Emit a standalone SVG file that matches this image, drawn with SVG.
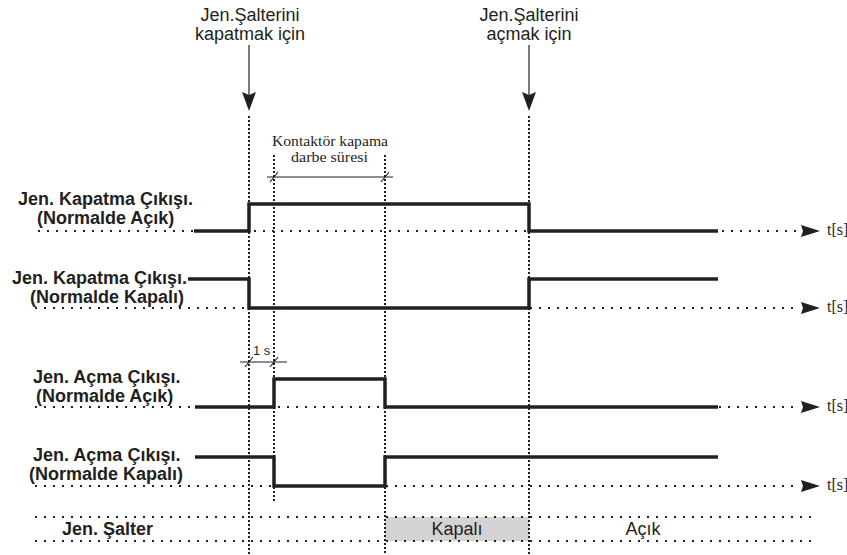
<svg xmlns="http://www.w3.org/2000/svg" width="847" height="555" viewBox="0 0 847 555">
<style>
.lbl{font-family:"Liberation Sans",Arial,sans-serif;font-size:18px;font-weight:bold;fill:#231f20}
.top{font-family:"Liberation Sans",Arial,sans-serif;font-size:18px;fill:#231f20;text-anchor:middle}
.reg{font-family:"Liberation Sans",Arial,sans-serif;font-size:18px;fill:#231f20;text-anchor:middle}
.ser{font-family:"Liberation Serif","Times New Roman",serif;font-size:14.5px;fill:#231f20}
.ts{font-family:"Liberation Serif","Times New Roman",serif;font-size:16px;fill:#231f20}
.hdot{stroke:#231f20;stroke-width:2;stroke-dasharray:2 7;fill:none}
.vdot{stroke:#231f20;stroke-width:2;stroke-dasharray:2 2;fill:none}
.sig{stroke:#231f20;stroke-width:3.5;fill:none;stroke-linejoin:miter}
.thin{stroke:#231f20;stroke-width:1.2;fill:none}
.ah{fill:#231f20}
</style>
<rect width="847" height="555" fill="#fff"/>
<g id="salter-box">
<rect x="385" y="517" width="144" height="24" fill="#d3d3d3"/>
</g>
<g id="connectors">
<line class="vdot" x1="249" y1="116" x2="249" y2="555"/>
<line class="vdot" x1="529" y1="116" x2="529" y2="555"/>
<line class="vdot" x1="274" y1="155" x2="274" y2="502"/>
<line class="vdot" x1="385" y1="155" x2="385" y2="555"/>
<line class="thin" x1="249" y1="45" x2="249" y2="96"/>
<path class="ah" d="M249,111 L242,92 L249,95 L256,92 Z"/>
<line class="thin" x1="529" y1="45" x2="529" y2="96"/>
<path class="ah" d="M529,111 L522,92 L529,95 L536,92 Z"/>
<line class="hdot" x1="38" y1="231" x2="800" y2="231"/>
<line class="hdot" x1="35" y1="308" x2="800" y2="308"/>
<line class="hdot" x1="35" y1="407" x2="800" y2="407"/>
<line class="hdot" x1="35" y1="486" x2="800" y2="486"/>
<line class="hdot" x1="35" y1="517" x2="818" y2="517"/>
<line class="hdot" x1="35" y1="541" x2="818" y2="541"/>
<path class="ah" d="M820,231 L801,225 L803,231 L801,237 Z"/>
<path class="ah" d="M820,308 L801,302 L803,308 L801,314 Z"/>
<path class="ah" d="M820,407 L801,401 L803,407 L801,413 Z"/>
<path class="ah" d="M820,486 L801,480 L803,486 L801,492 Z"/>
<path class="sig" d="M194,231 H249 V204 H529 V231 H718"/>
<path class="sig" d="M188,279 H249 V308 H529 V279 H718"/>
<path class="sig" d="M195,407 H274 V379 H385 V407 H718"/>
<path class="sig" d="M195,457 H274 V486 H385 V457 H718"/>
<line class="thin" x1="267" y1="177" x2="393" y2="177"/>
<line class="thin" x1="270" y1="182" x2="278" y2="172"/>
<line class="thin" x1="381" y1="182" x2="389" y2="172"/>
<line class="thin" x1="240" y1="362" x2="287" y2="362"/>
<line class="thin" x1="245" y1="367" x2="253" y2="357"/>
<line class="thin" x1="270" y1="367" x2="278" y2="357"/>
</g>
<g id="top-left">
<text class="top" x="250" y="21">Jen.Şalterini</text>
<text class="top" x="250" y="40">kapatmak için</text>
</g>
<g id="top-right">
<text class="top" x="529" y="21">Jen.Şalterini</text>
<text class="top" x="529" y="40">açmak için</text>
</g>
<g id="dim-kontaktor">
<text class="ser" x="272" y="146" textLength="116" lengthAdjust="spacingAndGlyphs">Kontaktör kapama</text>
<text class="ser" x="291" y="162" textLength="77" lengthAdjust="spacingAndGlyphs">darbe süresi</text>
</g>
<g id="dim-1s">
<text x="253" y="355" style="font-family:'Liberation Sans',Arial,sans-serif;font-size:13px;fill:#231f20">1 s</text>
</g>
<g id="row1">
<text class="lbl" x="18" y="205">Jen. Kapatma Çıkışı.</text>
<text class="lbl" x="37" y="224">(Normalde Açık)</text>
<text class="ts" x="827" y="235">t[s]</text>
</g>
<g id="row2">
<text class="lbl" x="12" y="284">Jen. Kapatma Çıkışı.</text>
<text class="lbl" x="30" y="303">(Normalde Kapalı)</text>
<text class="ts" x="827" y="312">t[s]</text>
</g>
<g id="row3">
<text class="lbl" x="33" y="383">Jen. Açma Çıkışı.</text>
<text class="lbl" x="36" y="402">(Normalde Açık)</text>
<text class="ts" x="827" y="411">t[s]</text>
</g>
<g id="row4">
<text class="lbl" x="33" y="461">Jen. Açma Çıkışı.</text>
<text class="lbl" x="29" y="480">(Normalde Kapalı)</text>
<text class="ts" x="827" y="490">t[s]</text>
</g>
<g id="row5">
<text class="lbl" x="62" y="535">Jen. Şalter</text>
<text class="reg" x="457" y="535">Kapalı</text>
<text class="reg" x="643" y="535">Açık</text>
</g>
</svg>
